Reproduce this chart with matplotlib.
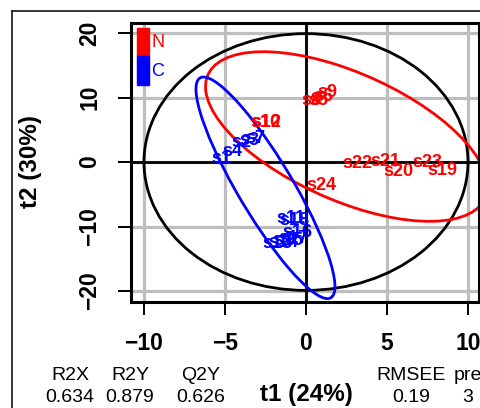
import numpy as np
import matplotlib
matplotlib.use("Agg")
import matplotlib.pyplot as plt
from matplotlib.patches import Ellipse, Rectangle
from matplotlib.lines import Line2D

plt.rcParams['font.family'] = ['Liberation Sans', 'DejaVu Sans']

# score labels (t1, t2) per class
n_names = ['s8', 's5', 's6', 's9', 's10', 's12', 's22', 's21', 's20', 's23', 's19', 's24']
n_t1 = [0.31, 0.74, 1.05, 1.3, -2.5, -2.42, 3.2, 4.9, 5.7, 7.5, 8.43, 0.97]
n_t2 = [9.46, 9.46, 10.2, 10.85, 6.2, 6.2, -0.3, 0.15, -1.4, -0.1, -1.25, -3.6]

c_names = ['s1', 's4', 's2', 's3', 's7', 's11', 's18', 's16', 's13', 's14', 's15', 's17']
c_t1 = [-5.25, -4.57, -4.0, -3.5, -3.1, -0.95, -0.7, -0.5, -1.75, -1.4, -1.1, -0.8]
c_t2 = [0.6, 1.7, 2.95, 3.3, 3.7, -8.8, -9.0, -11.0, -12.6, -12.4, -12.2, -11.9]

# ellipses: center, full width, full height, angle (deg, data coords)
hotelling = (0.0, 0.0, 20.0, 39.8, 0.0)
n_ell = (2.5, 3.95, 28.8, 12.84, -62.9)
c_ell = (-2.5, -4.0, 35.2, 3.8, -77.3)

ticks_x = [-10, -5, 0, 5, 10]
ticks_y = [-20, -10, 0, 10, 20]

metric_names = ['R2X', 'R2Y', 'Q2Y', 'RMSEE', 'pre']
metric_vals = ['0.634', '0.879', '0.626', '0.19', '3']
metric_px = [70, 130, 201, 411, 468]

W, H = 481, 408
fig = plt.figure(figsize=(W / 100, H / 100), dpi=100)
ax = fig.add_axes([131 / W, 1 - 302 / H, 348 / W, 279 / H])
ax.set_xlim(-10.8, 10.68)
ax.set_ylim(-21.7, 21.55)

grey = '#BEBEBE'
for v in ticks_x:
    ax.axvline(v, color=grey, lw=2.3, zorder=0)
for v in ticks_y:
    ax.axhline(v, color=grey, lw=2.3, zorder=0)
ax.axvline(0, color='black', lw=2.0, zorder=1)
ax.axhline(0, color='black', lw=2.0, zorder=1)

for (cx, cy, w, h, a), col in [(hotelling, 'black'), (n_ell, 'red'), (c_ell, 'blue')]:
    ax.add_patch(Ellipse((cx, cy), w, h, angle=a, fill=False, edgecolor=col, lw=2.0, zorder=2))

for nm, x, y in zip(n_names, n_t1, n_t2):
    ax.text(x, y, nm, color='red', fontsize=13, fontweight='bold', ha='center', va='center', zorder=3)
for nm, x, y in zip(c_names, c_t1, c_t2):
    ax.text(x, y, nm, color='blue', fontsize=13, fontweight='bold', ha='center', va='center', zorder=3)

# class legend
ax.add_patch(Rectangle((0.017, 0.882), 0.035, 0.1, transform=ax.transAxes, color='red', zorder=4))
ax.add_patch(Rectangle((0.017, 0.778), 0.035, 0.104, transform=ax.transAxes, color='blue', zorder=4))
ax.text(0.058, 0.93, 'N', color='red', fontsize=13, transform=ax.transAxes, va='center')
ax.text(0.058, 0.826, 'C', color='blue', fontsize=13, transform=ax.transAxes, va='center')

for s in ax.spines.values():
    s.set_linewidth(2.2)
ax.set_xticks(ticks_x)
ax.set_yticks(ticks_y)
ax.tick_params(direction='out', length=9.5, width=1.4, labelsize=16.5, pad=12)
for lab in ax.get_xticklabels() + ax.get_yticklabels():
    lab.set_fontweight('bold')
for lab in ax.get_yticklabels():
    lab.set_rotation(90)
    lab.set_va('center')

fig.text(306 / W, 1 - 395 / H, 't1 (24%)', fontsize=17.5, fontweight='bold', ha='center', va='center')
fig.text(31 / W, 1 - 162 / H, 't2 (30%)', fontsize=17.5, fontweight='bold', ha='center', va='center', rotation=90)

for nm, val, px in zip(metric_names, metric_vals, metric_px):
    fig.text(px / W, 1 - 376 / H, nm, fontsize=14, ha='center', va='center')
    fig.text(px / W, 1 - 397 / H, val, fontsize=14, ha='center', va='center')

# outer device frame
fig.add_artist(Line2D([12 / W, 12 / W], [0, 1 - 11 / H], color='black', lw=1.1, transform=fig.transFigure))
fig.add_artist(Line2D([12 / W, 1], [1 - 11 / H, 1 - 11 / H], color='black', lw=1.1, transform=fig.transFigure))

fig.savefig('out.png', dpi=100)
